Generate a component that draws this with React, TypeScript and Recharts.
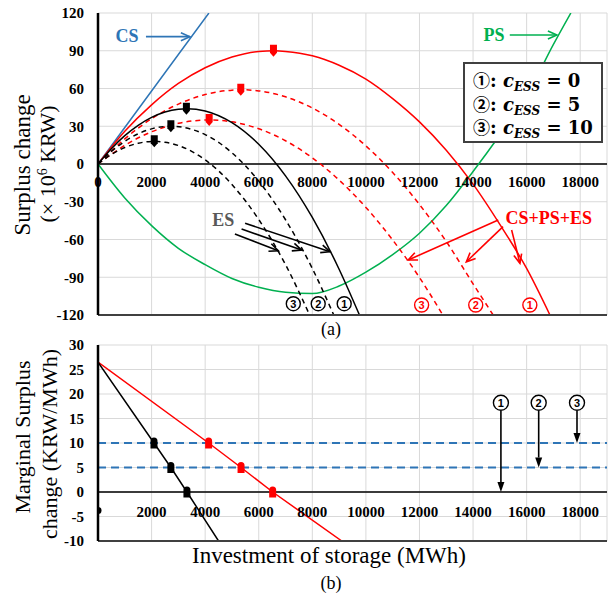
import React from 'react';
import {
  ComposedChart,
  Line,
  Scatter,
  XAxis,
  YAxis,
  CartesianGrid,
  ReferenceLine,
  ReferenceDot,
} from 'recharts';

const SERIF = "'Liberation Serif', 'Times New Roman', serif";
const SANS = "'Liberation Sans', Arial, sans-serif";
const RED = '#ff0000';
const BLUE = '#2e75b6';
const GREEN = '#00b050';
const GRAY = '#595959';
const FRAME = '#404040';
const GRID = '#d9d9d9';

// shared x axis (MWh)
const xTicks = [0, 2000, 4000, 6000, 8000, 10000, 12000, 14000, 16000, 18000];
// (a) surplus change, x10^6 KRW
const yTicksA = [-120, -90, -60, -30, 0, 30, 60, 90, 120];
// (b) marginal surplus change, KRW/MWh
const yTicksB = [-10, -5, 0, 5, 10, 15, 20, 25, 30];

const csCurve = [
  { x: 0, y: 0 }, { x: 1000, y: 29 }, { x: 2000, y: 58 }, { x: 3000, y: 87 }, { x: 4140, y: 120 },
];
const psCurve = [
  { x: 0, y: 0 }, { x: 1000, y: -27 }, { x: 2000, y: -49 }, { x: 3000, y: -67 }, { x: 4000, y: -80 },
  { x: 5000, y: -91 }, { x: 6000, y: -98 }, { x: 7000, y: -102 }, { x: 8000, y: -103 }, { x: 9000, y: -97 },
  { x: 10000, y: -86 }, { x: 11000, y: -72 }, { x: 12000, y: -55 }, { x: 13000, y: -33 }, { x: 14000, y: -6 },
  { x: 15000, y: 23 }, { x: 16000, y: 54 }, { x: 17000, y: 95 }, { x: 17650, y: 120 },
];
// CS+PS+ES for c_ESS = 0 / 5 / 10
const total0 = [
  { x: 0, y: 0 }, { x: 1000, y: 26 }, { x: 2000, y: 47 }, { x: 3000, y: 64 }, { x: 4000, y: 76.5 },
  { x: 5000, y: 85 }, { x: 6000, y: 89.5 }, { x: 6600, y: 90 }, { x: 7000, y: 89.5 }, { x: 8000, y: 86 },
  { x: 9000, y: 78.5 }, { x: 10000, y: 67.5 }, { x: 11000, y: 52 }, { x: 12000, y: 33.5 }, { x: 13000, y: 11 },
  { x: 14000, y: -16 }, { x: 15000, y: -48 }, { x: 16000, y: -83 }, { x: 16870, y: -120 },
];
const total5 = [
  { x: 0, y: 0 }, { x: 1000, y: 20 }, { x: 2000, y: 36 }, { x: 3000, y: 47.6 }, { x: 4000, y: 55.2 },
  { x: 5000, y: 58.7 }, { x: 5350, y: 59 }, { x: 6000, y: 58.1 }, { x: 7000, y: 53.4 }, { x: 8000, y: 44.5 },
  { x: 9000, y: 31.5 }, { x: 10000, y: 14.4 }, { x: 11000, y: -6.8 }, { x: 12000, y: -32.2 }, { x: 13000, y: -61.6 },
  { x: 14000, y: -95.2 }, { x: 14750, y: -120 },
];
const total10 = [
  { x: 0, y: 0 }, { x: 1000, y: 14.8 }, { x: 2000, y: 25.6 }, { x: 3000, y: 32.3 }, { x: 4150, y: 35 },
  { x: 5000, y: 33.5 }, { x: 6000, y: 28 }, { x: 7000, y: 18.5 }, { x: 8000, y: 4.9 }, { x: 9000, y: -12.8 },
  { x: 10000, y: -34.5 }, { x: 11000, y: -60.4 }, { x: 12000, y: -90.2 }, { x: 12870, y: -120 },
];
// ES for c_ESS = 0 / 5 / 10
const es0 = [
  { x: 0, y: 0 }, { x: 500, y: 12.2 }, { x: 1000, y: 22.5 }, { x: 1500, y: 30.7 }, { x: 2000, y: 37 },
  { x: 2500, y: 41.3 }, { x: 3000, y: 43.6 }, { x: 3330, y: 44 }, { x: 4000, y: 42.2 }, { x: 5000, y: 32.9 },
  { x: 6000, y: 15.7 }, { x: 7000, y: -9.4 }, { x: 8000, y: -42.5 }, { x: 9000, y: -83.6 }, { x: 9760, y: -120 },
];
const es5 = [
  { x: 0, y: 0 }, { x: 500, y: 10 }, { x: 1000, y: 18 }, { x: 1500, y: 24 }, { x: 2000, y: 27.9 },
  { x: 2720, y: 30 }, { x: 3500, y: 27.5 }, { x: 4000, y: 23.4 }, { x: 5000, y: 8.9 }, { x: 6000, y: -13.6 },
  { x: 7000, y: -44.3 }, { x: 8000, y: -83 }, { x: 8800, y: -120 },
];
const es10 = [
  { x: 0, y: 0 }, { x: 500, y: 7.6 }, { x: 1000, y: 13.1 }, { x: 1500, y: 16.5 }, { x: 2100, y: 18 },
  { x: 2500, y: 17.3 }, { x: 3000, y: 14.7 }, { x: 4000, y: 3.3 }, { x: 5000, y: -16.3 }, { x: 6000, y: -44.1 },
  { x: 7000, y: -80 }, { x: 7900, y: -120 },
];
const peaksTotal = [{ x: 4150, y: 35 }, { x: 5330, y: 59 }, { x: 6550, y: 90 }];
const peaksEs = [{ x: 2100, y: 18 }, { x: 2720, y: 30 }, { x: 3300, y: 44 }];

const marginalEs = [
  { x: 0, y: 26.5 }, { x: 2090, y: 10 }, { x: 2720, y: 5 }, { x: 3320, y: 0 }, { x: 4500, y: -10 },
];
const marginalTotal = [
  { x: 0, y: 26.5 }, { x: 4130, y: 10 }, { x: 5340, y: 5 }, { x: 6520, y: 0 }, { x: 9100, y: -10 },
];
const costLevels = [10, 5];
const crossEs = [{ x: 2090, y: 10 }, { x: 2720, y: 5 }, { x: 3320, y: 0 }];
const crossTotal = [{ x: 4130, y: 10 }, { x: 5340, y: 5 }, { x: 6520, y: 0 }];
const originDot = [{ x: 0, y: -3.8 }];
const costKey = ['0', '5', '10'];

function Arrow({ x1, y1, x2, y2, color, width = 1.6, filled = false }: any) {
  const a = Math.atan2(y2 - y1, x2 - x1);
  const L = filled ? 10 : 9;
  const Wd = filled ? 3.5 : 4;
  const bx = x2 - L * Math.cos(a);
  const by = y2 - L * Math.sin(a);
  const p1 = `${bx - Wd * Math.sin(a)},${by + Wd * Math.cos(a)}`;
  const p2 = `${bx + Wd * Math.sin(a)},${by - Wd * Math.cos(a)}`;
  return (
    <g>
      <line x1={x1} y1={y1} x2={filled ? bx : x2} y2={filled ? by : y2} stroke={color} strokeWidth={width} />
      {filled ? (
        <polygon points={`${x2},${y2} ${p1} ${p2}`} fill={color} />
      ) : (
        <polyline points={`${p1} ${x2},${y2} ${p2}`} fill="none" stroke={color} strokeWidth={width} />
      )}
    </g>
  );
}

const arrow = (color: string, filled = false) => (p: any) =>
  <Arrow x1={p.x1} y1={p.y1} x2={p.x2} y2={p.y2} color={color} filled={filled} />;

const label = (text: string, color: string, size = 18) => (p: any) => (
  <text x={p.cx} y={p.cy} textAnchor="middle" dominantBaseline="central" fontFamily={SERIF}
    fontWeight="bold" fontSize={size} fill={color}>{text}</text>
);

const circled = (n: string, color: string, r = 7) => (p: any) => (
  <g>
    <circle cx={p.cx} cy={p.cy} r={r} fill="#fff" stroke={color} strokeWidth={1.4} />
    <text x={p.cx} y={p.cy + 0.5} textAnchor="middle" dominantBaseline="central" fontFamily={SANS}
      fontWeight="bold" fontSize={11} fill={color}>{n}</text>
  </g>
);

const pinDown = (fill: string) => (p: any) => {
  const { cx, cy } = p;
  return <path d={`M${cx - 3.5},${cy - 6} H${cx + 3.5} V${cy + 2} L${cx},${cy + 6} L${cx - 3.5},${cy + 2} Z`} fill={fill} />;
};
const pinUp = (fill: string) => (p: any) => {
  const { cx, cy } = p;
  return <path d={`M${cx - 3.5},${cy + 5.5} V${cy - 2} A3.5 3.5 0 0 1 ${cx + 3.5},${cy - 2} V${cy + 5.5} Z`} fill={fill} />;
};

const XTickLabel = ({ x, payload, skipZero }: any) => {
  if (skipZero && payload.value === 0) return <g />;
  return (
    <text x={x} y={187} textAnchor="middle" fontFamily={SERIF} fontWeight="bold" fontSize={15} fill="#000">
      {payload.value}
    </text>
  );
};

const yTickStyle = { fontFamily: SERIF, fontWeight: 'bold', fontSize: 15, fill: '#000' };

export default function App() {
  const lineCommon = { dot: false, isAnimationActive: false, strokeWidth: 1.5, dataKey: 'y' } as const;
  return (
    <div style={{ position: 'absolute', left: 0, top: 0, width: 613, height: 598, background: '#fff' }}>
      {/* (a) */}
      <div style={{ position: 'absolute', left: 0, top: 0 }}>
        <ComposedChart width={613} height={330} margin={{ top: 13, right: 6, bottom: 14, left: 0 }}>
          <CartesianGrid stroke={GRID} strokeWidth={1} />
          <XAxis dataKey="x" type="number" domain={[0, 19000]} ticks={xTicks} allowDataOverflow height={1}
            interval={0} axisLine={{ stroke: FRAME, strokeWidth: 2 }} tickLine={false}
            tick={(p: any) => <XTickLabel {...p} />} />
          <XAxis xAxisId="top" orientation="top" dataKey="x" type="number" domain={[0, 19000]} height={0}
            axisLine={{ stroke: FRAME, strokeWidth: 2 }} tickLine={false} tick={false} />
          <YAxis type="number" domain={[-120, 120]} ticks={yTicksA} allowDataOverflow width={98}
            axisLine={{ stroke: '#000', strokeWidth: 2.5 }} tickLine={false} tickSize={6} tickMargin={8}
            tick={yTickStyle} />
          <YAxis yAxisId="right" orientation="right" type="number" domain={[-120, 120]} width={0}
            axisLine={{ stroke: FRAME, strokeWidth: 2 }} tickLine={false} tick={false} />
          <ReferenceLine y={0} stroke="#000" strokeWidth={1.5} />

          <Line data={csCurve} type="linear" stroke={BLUE} {...lineCommon} />
          <Line data={psCurve} type="monotone" stroke={GREEN} {...lineCommon} />
          <Line data={total0} type="monotone" stroke={RED} {...lineCommon} />
          <Line data={total5} type="monotone" stroke={RED} strokeDasharray="5 4" {...lineCommon} />
          <Line data={total10} type="monotone" stroke={RED} strokeDasharray="5 4" {...lineCommon} />
          <Line data={es0} type="monotone" stroke="#000" {...lineCommon} />
          <Line data={es5} type="monotone" stroke="#000" strokeDasharray="5 4" {...lineCommon} />
          <Line data={es10} type="monotone" stroke="#000" strokeDasharray="5 4" {...lineCommon} />
          <Scatter data={peaksTotal} dataKey="y" shape={pinDown(RED)} isAnimationActive={false} />
          <Scatter data={peaksEs} dataKey="y" shape={pinDown('#000')} isAnimationActive={false} />

          {/* annotations */}
          <ReferenceDot x={1080} y={101.5} r={0} shape={label('CS', BLUE)} />
          <ReferenceLine segment={[{ x: 1790, y: 101.2 }, { x: 3430, y: 101.2 }]} shape={arrow(BLUE)} />
          <ReferenceDot x={14780} y={102.5} r={0} shape={label('PS', GREEN)} />
          <ReferenceLine segment={[{ x: 15370, y: 102.5 }, { x: 17130, y: 102.5 }]} shape={arrow(GREEN)} />
          <ReferenceDot x={4680} y={-44.5} r={0} shape={label('ES', GRAY)} />
          <ReferenceLine segment={[{ x: 5490, y: -47.1 }, { x: 8660, y: -69.7 }]} shape={arrow('#000')} />
          <ReferenceLine segment={[{ x: 5360, y: -51.7 }, { x: 7600, y: -68.4 }]} shape={arrow('#000')} />
          <ReferenceLine segment={[{ x: 5110, y: -55.6 }, { x: 6730, y: -68.9 }]} shape={arrow('#000')} />
          <ReferenceDot x={16830} y={-42.9} r={0} shape={label('CS+PS+ES', RED)} />
          <ReferenceLine segment={[{ x: 14940, y: -44.5 }, { x: 11580, y: -76.3 }]} shape={arrow(RED)} />
          <ReferenceLine segment={[{ x: 15120, y: -49.8 }, { x: 13750, y: -77.7 }]} shape={arrow(RED)} />
          <ReferenceLine segment={[{ x: 15440, y: -52.5 }, { x: 15750, y: -78.9 }]} shape={arrow(RED)} />
          <ReferenceDot x={12080} y={-112} r={0} shape={circled('3', RED)} />
          <ReferenceDot x={14100} y={-112} r={0} shape={circled('2', RED)} />
          <ReferenceDot x={16120} y={-112} r={0} shape={circled('1', RED)} />
          <ReferenceDot x={7290} y={-111} r={0} shape={circled('3', '#000')} />
          <ReferenceDot x={8220} y={-111} r={0} shape={circled('2', '#000')} />
          <ReferenceDot x={9190} y={-111} r={0} shape={circled('1', '#000')} />
        </ComposedChart>
      </div>

      {/* (b) */}
      <div style={{ position: 'absolute', left: 0, top: 330 }}>
        <ComposedChart width={613} height={268} margin={{ top: 15, right: 6, bottom: 56, left: 0 }}>
          <CartesianGrid stroke={GRID} strokeWidth={1} />
          <XAxis dataKey="x" type="number" domain={[0, 19000]} ticks={xTicks} allowDataOverflow height={1}
            interval={0} axisLine={{ stroke: FRAME, strokeWidth: 2 }} tickLine={false}
            tick={(p: any) => <XTickLabel {...p} skipZero />} />
          <XAxis xAxisId="top" orientation="top" dataKey="x" type="number" domain={[0, 19000]} height={0}
            axisLine={{ stroke: FRAME, strokeWidth: 2 }} tickLine={false} tick={false} />
          <YAxis type="number" domain={[-10, 30]} ticks={yTicksB} allowDataOverflow width={98}
            axisLine={{ stroke: '#000', strokeWidth: 2.5 }} tickLine={false} tickSize={6} tickMargin={8}
            tick={yTickStyle} />
          <YAxis yAxisId="right" orientation="right" type="number" domain={[-10, 30]} width={0}
            axisLine={{ stroke: FRAME, strokeWidth: 2 }} tickLine={false} tick={false} />
          <ReferenceLine y={0} stroke="#000" strokeWidth={1.5} />
          {costLevels.map((c) => (
            <ReferenceLine key={c} y={c} stroke={BLUE} strokeWidth={2} strokeDasharray="8 5" />
          ))}
          <Line data={marginalTotal} type="linear" stroke={RED} {...lineCommon} />
          <Line data={marginalEs} type="linear" stroke="#000" {...lineCommon} />
          <Scatter data={crossTotal} dataKey="y" shape={pinUp(RED)} isAnimationActive={false} />
          <Scatter data={crossEs} dataKey="y" shape={pinUp('#000')} isAnimationActive={false} />
          <Scatter data={originDot} dataKey="y" fill="#000"
            shape={(p: any) => <circle cx={p.cx} cy={p.cy} r={3.5} fill="#000" />} isAnimationActive={false} />

          <ReferenceDot x={15040} y={18.2} r={0} shape={circled('1', '#000', 7.5)} />
          <ReferenceDot x={16450} y={18.2} r={0} shape={circled('2', '#000', 7.5)} />
          <ReferenceDot x={17880} y={18.2} r={0} shape={circled('3', '#000', 7.5)} />
          <ReferenceLine segment={[{ x: 15040, y: 16.6 }, { x: 15040, y: 0 }]} shape={arrow('#000', true)} />
          <ReferenceLine segment={[{ x: 16450, y: 16.6 }, { x: 16450, y: 5 }]} shape={arrow('#000', true)} />
          <ReferenceLine segment={[{ x: 17880, y: 16.6 }, { x: 17880, y: 10 }]} shape={arrow('#000', true)} />
        </ComposedChart>
      </div>

      {/* titles */}
      <svg width={613} height={598} style={{ position: 'absolute', left: 0, top: 0, pointerEvents: 'none' }}>
        <g fontFamily={SERIF} fill="#000">
          <text x={30} y={165} fontSize={23} textAnchor="middle" transform="rotate(-90 30 165)">Surplus change</text>
          <text x={55} y={164} fontSize={22} textAnchor="middle" transform="rotate(-90 55 164)">
            (× 10<tspan fontSize={14} dy={-8}>6</tspan><tspan dy={8}> KRW)</tspan>
          </text>
          <text x={30} y={437} fontSize={22} textAnchor="middle" transform="rotate(-90 30 437)">Marginal Surplus</text>
          <text x={57} y={444} fontSize={22} textAnchor="middle" transform="rotate(-90 57 444)">change (KRW/MWh)</text>
          <text x={331} y={335} fontSize={18} textAnchor="middle">(a)</text>
          <text x={329} y={563} fontSize={23} textAnchor="middle">Investment of storage (MWh)</text>
          <text x={331} y={589} fontSize={18} textAnchor="middle">(b)</text>
        </g>
      </svg>

      {/* c_ESS key */}
      <div style={{
        position: 'absolute', left: 463, top: 62, width: 140, height: 81, boxSizing: 'border-box',
        border: `2px solid ${FRAME}`, background: '#fff', padding: '4px 0 0 8px',
        fontFamily: "'DejaVu Serif', serif", fontWeight: 'bold', fontSize: 18, color: '#000',
      }}>
        {costKey.map((v, i) => (
          <div key={v} style={{ height: 23.5, lineHeight: '23.5px', whiteSpace: 'nowrap' }}>
            <span style={{ fontFamily: "'Noto Sans CJK KR', 'DejaVu Sans', sans-serif", fontSize: 17 }}>
              {['①', '②', '③'][i]}
            </span>
            : <i>c</i>
            <i style={{ fontSize: 12, position: 'relative', top: 4 }}>ESS</i> = {v}
          </div>
        ))}
      </div>
    </div>
  );
}
